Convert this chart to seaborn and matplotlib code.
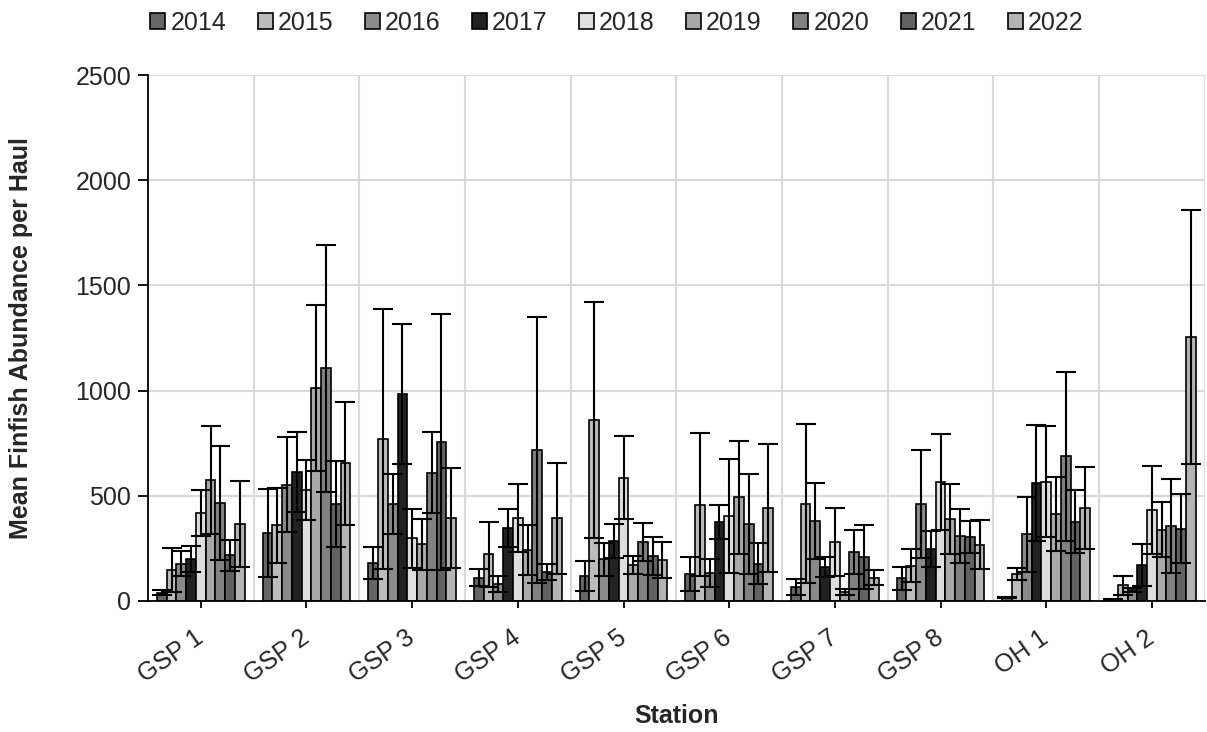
import numpy as np
import pandas as pd
import matplotlib
matplotlib.use("Agg")
import matplotlib.pyplot as plt
import seaborn as sns
from matplotlib.patches import Patch

# Stations and years
stations = ["GSP 1", "GSP 2", "GSP 3", "GSP 4", "GSP 5", "GSP 6", "GSP 7", "GSP 8", "OH 1", "OH 2"]
years = ["2014", "2015", "2016", "2017", "2018", "2019", "2020", "2021", "2022"]

# Mean abundance per haul (one list per station, values by year)
mean_gsp1 = [40, 148, 178, 200, 418, 576, 466, 217, 365]
mean_gsp2 = [322, 360, 553, 613, 528, 1011, 1106, 461, 654]
mean_gsp3 = [182, 770, 461, 982, 298, 269, 610, 756, 393]
mean_gsp4 = [111, 222, 80, 345, 394, 242, 718, 138, 393]
mean_gsp5 = [119, 859, 198, 285, 585, 171, 279, 215, 193]
mean_gsp6 = [128, 458, 133, 374, 404, 493, 367, 177, 442]
mean_gsp7 = [68, 463, 380, 162, 280, 44, 233, 209, 111]
mean_gsp8 = [108, 168, 461, 247, 564, 390, 310, 303, 268]
mean_oh1 = [16, 127, 317, 559, 567, 413, 688, 377, 442]
mean_oh2 = [5, 75, 54, 170, 431, 339, 356, 344, 1256]

# Standard deviations (error bars)
sd_gsp1 = [12, 105, 60, 63, 109, 258, 270, 73, 203]
sd_gsp2 = [210, 178, 225, 188, 142, 394, 588, 205, 292]
sd_gsp3 = [76, 619, 143, 333, 140, 120, 194, 609, 237]
sd_gsp4 = [42, 155, 39, 90, 160, 118, 631, 40, 264]
sd_gsp5 = [72, 562, 77, 82, 197, 44, 91, 90, 86]
sd_gsp6 = [79, 339, 66, 80, 270, 269, 238, 98, 304]
sd_gsp7 = [38, 376, 180, 48, 161, 14, 103, 150, 36]
sd_gsp8 = [54, 80, 255, 85, 228, 168, 128, 77, 116]
sd_oh1 = [3, 29, 177, 276, 263, 176, 401, 150, 197]
sd_oh2 = [2, 45, 10, 99, 209, 130, 222, 164, 604]

means = [mean_gsp1, mean_gsp2, mean_gsp3, mean_gsp4, mean_gsp5,
         mean_gsp6, mean_gsp7, mean_gsp8, mean_oh1, mean_oh2]
sds = [sd_gsp1, sd_gsp2, sd_gsp3, sd_gsp4, sd_gsp5,
       sd_gsp6, sd_gsp7, sd_gsp8, sd_oh1, sd_oh2]

colors = ["#666666", "#bcbcbc", "#8a8a8a", "#222222", "#dedede",
          "#a9a9a9", "#818181", "#626262", "#b4b4b4"]

# Long form table
rows = []
for s, m_row, sd_row in zip(stations, means, sds):
    for y, m, sd in zip(years, m_row, sd_row):
        rows.append({"station": s, "year": y, "mean": m, "sd": sd})
df = pd.DataFrame(rows)

sns.set_style("white")
plt.rcParams["font.family"] = ["Liberation Sans", "DejaVu Sans"]

fig = plt.figure(figsize=(12.07, 7.32), dpi=100)
ax = fig.add_axes([0.1226, 0.179, 0.8755, 0.7185])

sns.barplot(data=df, x="station", y="mean", hue="year", order=stations,
            hue_order=years, palette=colors, errorbar=None, width=0.83,
            edgecolor="black", linewidth=1.2, saturation=1, ax=ax, zorder=2)

# Error bars (mean +/- SD) drawn over each bar
for i, y in enumerate(years):
    cont = ax.containers[i]
    xs = [p.get_x() + p.get_width() / 2 for p in cont.patches]
    sub = df[df["year"] == y].set_index("station").loc[stations]
    ax.errorbar(xs, sub["mean"].values, yerr=sub["sd"].values, fmt="none",
                ecolor="black", elinewidth=1.5, capsize=7, capthick=1.5, zorder=3)

ax.set_ylim(0, 2500)
ax.set_xlim(-0.5, len(stations) - 0.5)
ax.set_yticks(np.arange(0, 2501, 500))

# Gridlines: horizontal at ticks, vertical between stations
ax.set_xticks(np.arange(-0.5, len(stations), 1.0), minor=True)
ax.grid(axis="y", which="major", color="#d9d9d9", linewidth=1.5, zorder=0)
ax.grid(axis="x", which="minor", color="#d9d9d9", linewidth=1.5, zorder=0)
ax.set_axisbelow(True)

for side in ["top", "right"]:
    ax.spines[side].set_visible(False)
for side in ["left", "bottom"]:
    ax.spines[side].set_color("black")
    ax.spines[side].set_linewidth(1.3)

ax.tick_params(axis="x", which="major", direction="out", length=5, width=1.3,
               color="black", bottom=True, labelsize=18, pad=20)
ax.tick_params(axis="x", which="minor", length=0)
ax.tick_params(axis="y", direction="out", length=7, width=1.3,
               color="black", left=True, labelsize=18, pad=5)
plt.setp(ax.get_xticklabels(), rotation=35, ha="right", va="center", rotation_mode="anchor")

ax.set_xlabel("Station", fontsize=18, fontweight="bold", va="top")
ax.xaxis.set_label_coords(0.5, -0.195)
ax.set_ylabel("Mean Finfish Abundance per Haul", fontsize=18, fontweight="bold", va="center")
ax.yaxis.set_label_coords(-0.12, 0.5)

# Legend along the top
ax.get_legend().remove()
handles = [Patch(facecolor=c, edgecolor="black", linewidth=1.2) for c in colors]
fig.legend(handles, years, loc="center", bbox_to_anchor=(0.511, 0.969),
           ncol=len(years), frameon=False, fontsize=18, handlelength=0.6,
           handleheight=0.6, handletextpad=0.2, columnspacing=1.26,
           borderpad=0.2)

fig.savefig("out.png", dpi=100)
